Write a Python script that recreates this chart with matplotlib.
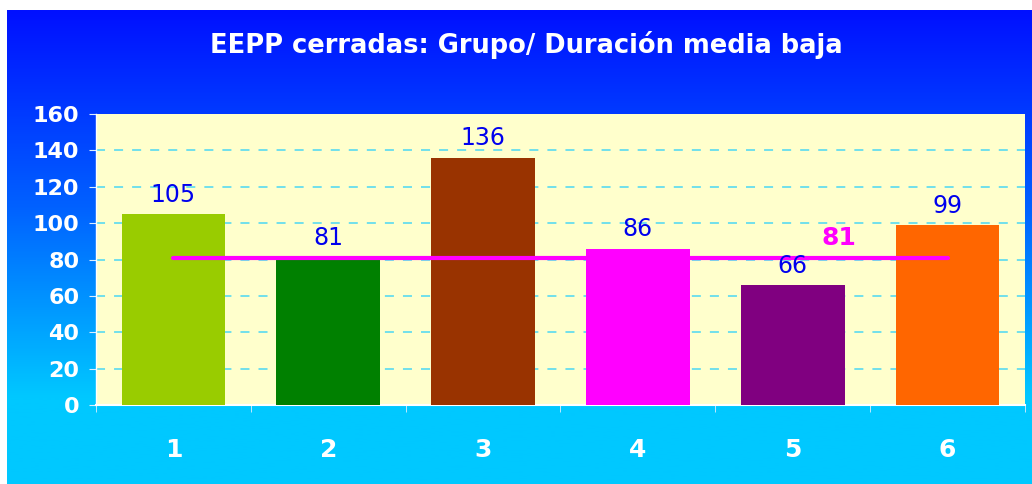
import numpy as np
import matplotlib.pyplot as plt
from matplotlib.colors import LinearSegmentedColormap

grupos = ["1", "2", "3", "4", "5", "6"]
duracion = [105, 81, 136, 86, 66, 99]
media = 81
colores = ["#99CC00", "#008000", "#993300", "#FF00FF", "#800080", "#FF6600"]
yticks = [0, 20, 40, 60, 80, 100, 120, 140, 160]

W, H = 1032, 484
fig = plt.figure(figsize=(W / 100, H / 100), dpi=100)
fig.patch.set_facecolor("white")

# gradient background (blue at top -> cyan at bottom)
bg = fig.add_axes([7 / W, 0, 1 - 7 / W, 1 - 10 / H], zorder=0)
cmap = LinearSegmentedColormap.from_list("fondo", ["#0010FF", "#0060FF", "#00C8FF"])
grad = np.linspace(0, 1, 256).reshape(-1, 1)
grad = np.clip(grad * 1.22, 0, 1)
bg.imshow(grad, aspect="auto", cmap=cmap, extent=[0, 1, 0, 1], origin="upper")
bg.set_axis_off()

# plot area
x0, x1 = 96, 1025
y_top, y_bot = 114, 405
ax = fig.add_axes([x0 / W, 1 - y_bot / H, (x1 - x0) / W, (y_bot - y_top) / H], zorder=1)
ax.set_facecolor("#FFFFCC")

xs = np.arange(len(grupos))
ax.bar(xs, duracion, width=0.67, color=colores, zorder=3)
ax.set_xlim(-0.5, len(grupos) - 0.5)
ax.set_ylim(0, 160)

for x, v in zip(xs, duracion):
    ax.text(x, v + 4, str(v), ha="center", va="bottom", color="#0000EE",
            fontsize=17, zorder=5)

# average line
ax.plot([xs[0], xs[-1]], [media, media], color="#FF00FF", lw=3, zorder=4,
        solid_capstyle="round")
ax.text(4.3, media + 4, str(media), ha="center", va="bottom", color="#FF00FF",
        fontsize=18, fontweight="bold", zorder=5)

# dashed gridlines between the axis limits
ax.hlines(yticks[1:-1], -0.5, len(grupos) - 0.5, colors="#66DDEE",
          linestyles=(0, (5, 5)), lw=1.3, zorder=1)

ax.set_yticks(yticks)
ax.set_xticks(xs)
ax.set_xticklabels(grupos)
ax.set_xticks(np.arange(-0.5, len(grupos)), minor=True)
ax.tick_params(axis="x", which="major", length=0, pad=24, labelcolor="white",
               labelsize=18)
ax.tick_params(axis="x", which="minor", length=5, color="#DDEEFF", direction="out")
ax.tick_params(axis="y", length=5, color="#DDEEFF", labelcolor="white", labelsize=16,
               pad=7)
for lab in ax.get_xticklabels() + ax.get_yticklabels():
    lab.set_fontweight("bold")

for side in ["top", "right"]:
    ax.spines[side].set_visible(False)
ax.spines["left"].set_color("white")
ax.spines["bottom"].set_color("white")
ax.spines["left"].set_linewidth(1)
ax.spines["bottom"].set_linewidth(1.5)

fig.text(526 / W, 1 - 45 / H, "EEPP cerradas: Grupo/ Duración media baja",
         ha="center", va="center", color="white", fontsize=18.5, fontweight="bold")

fig.savefig("out.png", dpi=100, facecolor=fig.get_facecolor())
